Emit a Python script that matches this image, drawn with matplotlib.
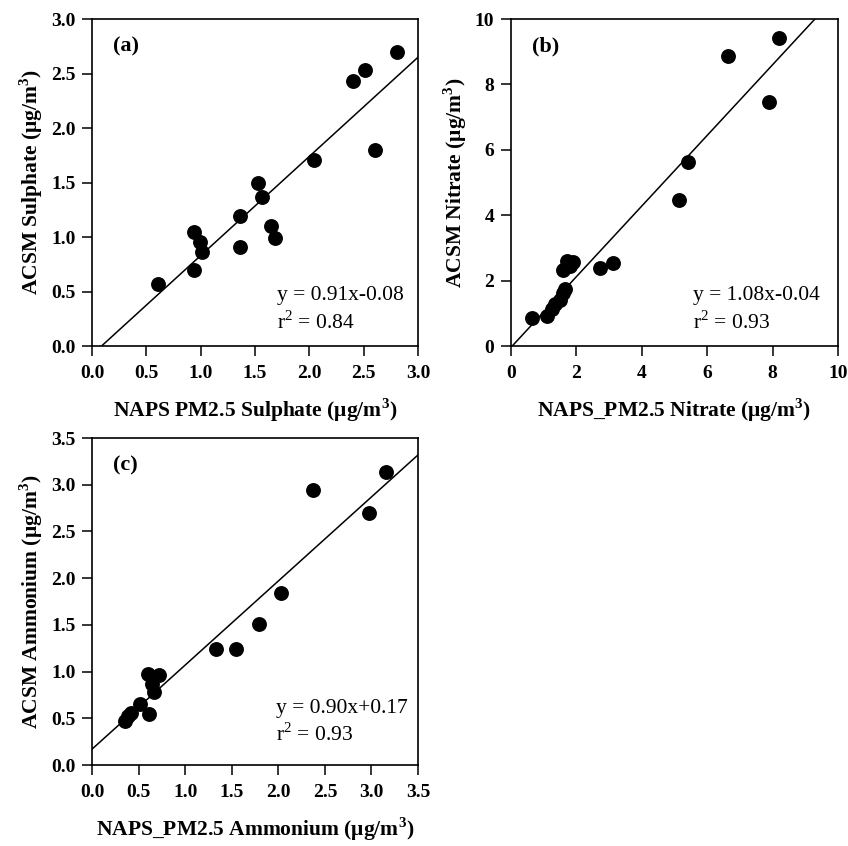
import matplotlib
matplotlib.use("Agg")
import matplotlib.pyplot as plt
import numpy as np

plt.rcParams['font.family'] = ['Liberation Serif', 'DejaVu Serif']

# (a) sulphate
sul_x = [0.61, 0.94, 0.99, 1.01, 0.94, 1.36, 1.365, 1.53, 1.56, 1.65, 1.68, 2.04, 2.40, 2.51, 2.60, 2.81]
sul_y = [0.57, 1.05, 0.95, 0.86, 0.70, 1.19, 0.91, 1.50, 1.37, 1.10, 0.99, 1.71, 2.43, 2.53, 1.80, 2.70]
sul_fit = (0.91, -0.08)

# (b) nitrate
nit_x = [0.63, 1.09, 1.24, 1.34, 1.49, 1.59, 1.64, 1.59, 1.72, 1.90, 1.80, 2.73, 3.12, 5.14, 5.41, 6.65, 7.89, 8.20]
nit_y = [0.86, 0.93, 1.12, 1.27, 1.42, 1.62, 1.73, 2.33, 2.61, 2.56, 2.45, 2.39, 2.54, 4.48, 5.62, 8.87, 7.45, 9.41]
nit_fit = (1.08, -0.04)

# (c) ammonium
amm_x = [0.35, 0.39, 0.42, 0.51, 0.61, 0.60, 0.64, 0.67, 0.72, 1.335, 1.55, 1.79, 2.03, 2.37, 2.97, 3.16]
amm_y = [0.47, 0.53, 0.56, 0.65, 0.55, 0.97, 0.87, 0.78, 0.96, 1.24, 1.24, 1.51, 1.84, 2.94, 2.70, 3.14]
amm_fit = (0.90, 0.17)

unit = r' ($\mathregular{\mu}$g/m$^{\mathregular{3}}$)'

panels = [
    dict(rect=[0.1085, 0.591, 0.3845, 0.3865], x=sul_x, y=sul_y, fit=sul_fit, lim=3.0,
         ticks=np.arange(0, 3.01, 0.5), fmt='{:.1f}', tag='(a)',
         xlabel='NAPS PM2.5 Sulphate' + unit, ylabel='ACSM Sulphate' + unit,
         eq='y = 0.91x-0.08', r2=r'r$^{\mathregular{2}}$ = 0.84', eqpos=(0.567, 0.155)),
    dict(rect=[0.6026, 0.591, 0.3855, 0.3865], x=nit_x, y=nit_y, fit=nit_fit, lim=10,
         ticks=np.arange(0, 10.1, 2), fmt='{:.0f}', tag='(b)',
         xlabel='NAPS_PM2.5 Nitrate' + unit, ylabel='ACSM Nitrate' + unit,
         eq='y = 1.08x-0.04', r2=r'r$^{\mathregular{2}}$ = 0.93', eqpos=(0.557, 0.155)),
    dict(rect=[0.1085, 0.0957, 0.3845, 0.3865], x=amm_x, y=amm_y, fit=amm_fit, lim=3.5,
         ticks=np.arange(0, 3.51, 0.5), fmt='{:.1f}', tag='(c)',
         xlabel='NAPS_PM2.5 Ammonium' + unit, ylabel='ACSM Ammonium' + unit,
         eq='y = 0.90x+0.17', r2=r'r$^{\mathregular{2}}$ = 0.93', eqpos=(0.565, 0.174)),
]

fig = plt.figure(figsize=(8.48, 8.46), dpi=100)

for p in panels:
    ax = fig.add_axes(p['rect'])
    ax.scatter(p['x'], p['y'], s=115, c='black', zorder=3, linewidths=0)
    slope, icpt = p['fit']
    lx = np.linspace(0, p['lim'], 200)
    ax.plot(lx, slope * lx + icpt, color='black', lw=1.1)
    ax.set_xlim(0, p['lim'])
    ax.set_ylim(0, p['lim'])
    ax.set_xticks(p['ticks'])
    ax.set_yticks(p['ticks'])
    labels = [p['fmt'].format(t) for t in p['ticks']]
    ax.set_xticklabels(labels, fontweight='bold', fontsize=14)
    ax.set_yticklabels(labels, fontweight='bold', fontsize=14)
    ax.tick_params(direction='out', length=7, width=1.1)
    ax.tick_params(axis='x', pad=7)
    ax.tick_params(axis='y', pad=5)
    for s in ax.spines.values():
        s.set_linewidth(1.2)
    ax.set_xlabel(p['xlabel'], fontweight='bold', fontsize=15.5, labelpad=10)
    ax.set_ylabel(p['ylabel'], fontweight='bold', fontsize=15.5, labelpad=4)
    ax.text(0.064, 0.915, p['tag'], transform=ax.transAxes, fontweight='bold',
            fontsize=16, va='center', ha='left')
    ex, ey = p['eqpos']
    ax.text(ex, ey, p['eq'], transform=ax.transAxes, fontsize=15.5, va='center', ha='left')
    ax.text(ex, ey - 0.082, p['r2'], transform=ax.transAxes, fontsize=15.5, va='center', ha='left')

fig.savefig('out.png', dpi=100)
